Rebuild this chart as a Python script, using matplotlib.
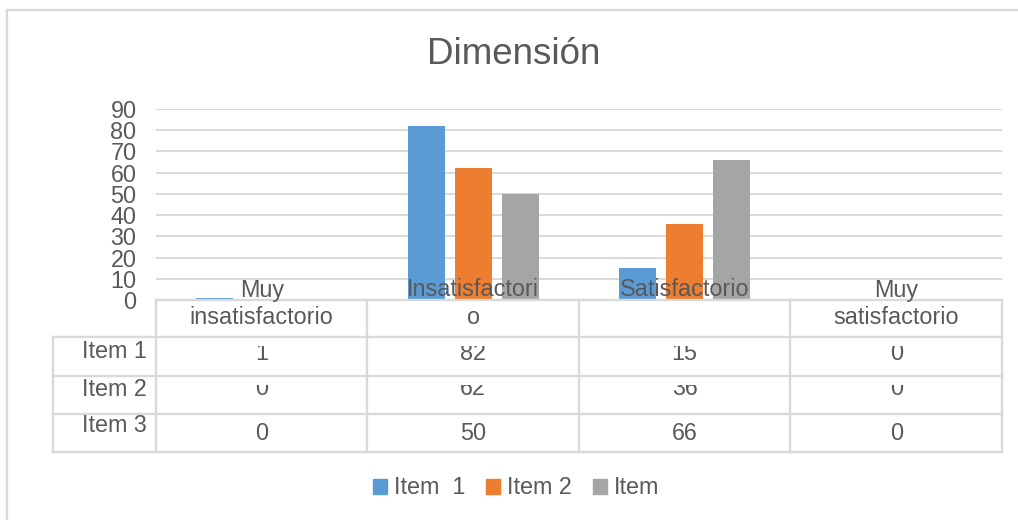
import matplotlib
matplotlib.use('Agg')
import matplotlib.pyplot as plt
from matplotlib.patches import Rectangle, Patch
from matplotlib.lines import Line2D

plt.rcParams['font.family'] = ['Liberation Sans', 'DejaVu Sans']

categories = ['Muy\ninsatisfactorio', 'Insatisfactori\no', 'Satisfactorio\n', 'Muy\nsatisfactorio']
series = ['Item 1', 'Item 2', 'Item 3']
item1 = [1, 82, 15, 0]
item2 = [0, 62, 36, 0]
item3 = [0, 50, 66, 0]
legend_labels = ['Item  1', 'Item 2', 'Item']
colors = ['#5B9BD5', '#ED7D31', '#A5A5A5']
yticks = [0, 10, 20, 30, 40, 50, 60, 70, 80, 90]

W, H = 1018, 520
txt = '#595959'
grid = '#d9d9d9'
fs = 16.8

fig = plt.figure(figsize=(W / 100, H / 100), dpi=100)

# plot area in pixels
x0, x1 = 156, 1002
y_top, y_zero = 109, 300
ax = fig.add_axes([x0 / W, 1 - y_zero / H, (x1 - x0) / W, (y_zero - y_top) / H])

values = [item1, item2, item3]
bw = 0.175
offs = [-0.222, 0.0, 0.222]
for vals, off, c, lab in zip(values, offs, colors, legend_labels):
    ax.bar([i + off for i in range(len(categories))], vals, bw, color=c, label=lab, zorder=2)

ax.set_xlim(-0.5, len(categories) - 0.5)
ax.set_ylim(0, 90)
ax.set_yticks(yticks)
ax.set_xticks([])
ax.yaxis.grid(True, color=grid, lw=1.4)
ax.set_axisbelow(True)
ax.tick_params(axis='y', length=0, pad=14, labelsize=fs, labelcolor=txt)
for s in ax.spines.values():
    s.set_visible(False)

# overlay in pixel coordinates (y measured from top via Y())
ov = fig.add_axes([0, 0, 1, 1], zorder=5)
ov.set_xlim(0, W)
ov.set_ylim(0, H)
ov.axis('off')
ov.patch.set_visible(False)


def Y(p):
    return H - p


def line(xa, xb, ya, yb, lw=1.7):
    ov.add_line(Line2D([xa, xb], [Y(ya), Y(yb)], color=grid, lw=lw))


# outer chart border
line(7.5, W, 10, 10)
line(7.5, 7.5, 10, H)

# title
ov.text(514, Y(55), 'Dimensión', ha='center', va='center', fontsize=26.5, color=txt)

# data table
col_w = (x1 - x0) / len(categories)
cols = [x0 + col_w * k for k in range(len(categories) + 1)]
rows = [300, 337, 375.5, 414, 452]
tab_left = 53
line(x0, x1, rows[0], rows[0])
for r in rows[1:]:
    line(tab_left, x1, r, r)
for c in cols:
    line(c, c, rows[0], rows[-1])
line(tab_left, tab_left, rows[1], rows[-1])

# category labels (overlapping the bars like the original)
for k, cat in enumerate(categories):
    cx = (cols[k] + cols[k + 1]) / 2
    first, second = cat.split('\n')
    ov.text(cx, Y(290), first, ha='center', va='center', fontsize=fs, color=txt)
    if second:
        ov.text(cx, Y(317), second, ha='center', va='center', fontsize=fs, color=txt)

# row labels and values
value_y = [353.5, 388.5, 433]
clip_top = [346, 385, 414]
label_y = [352, 389, 426]
for r, (name, vals) in enumerate(zip(series, values)):
    ov.text(147, Y(label_y[r]), name, ha='right', va='center', fontsize=fs, color=txt)
    for k, v in enumerate(vals):
        cx = (cols[k] + cols[k + 1]) / 2
        t = ov.text(cx, Y(value_y[r]), str(v), ha='center', va='center', fontsize=fs, color=txt)
        clip = Rectangle((cols[k], Y(rows[r + 2])), col_w, rows[r + 2] - clip_top[r],
                         transform=ov.transData)
        t.set_clip_path(clip)
        t.set_clip_on(True)

# legend
handles = [Patch(color=c) for c in colors]
fig.legend(handles, legend_labels, loc='center', bbox_to_anchor=(516 / W, 1 - 488 / H),
           ncol=3, frameon=False, fontsize=fs, labelcolor=txt, handlelength=0.6,
           handleheight=0.6, handletextpad=0.3, columnspacing=0.9)

fig.savefig('out.png', dpi=100, facecolor='white')
